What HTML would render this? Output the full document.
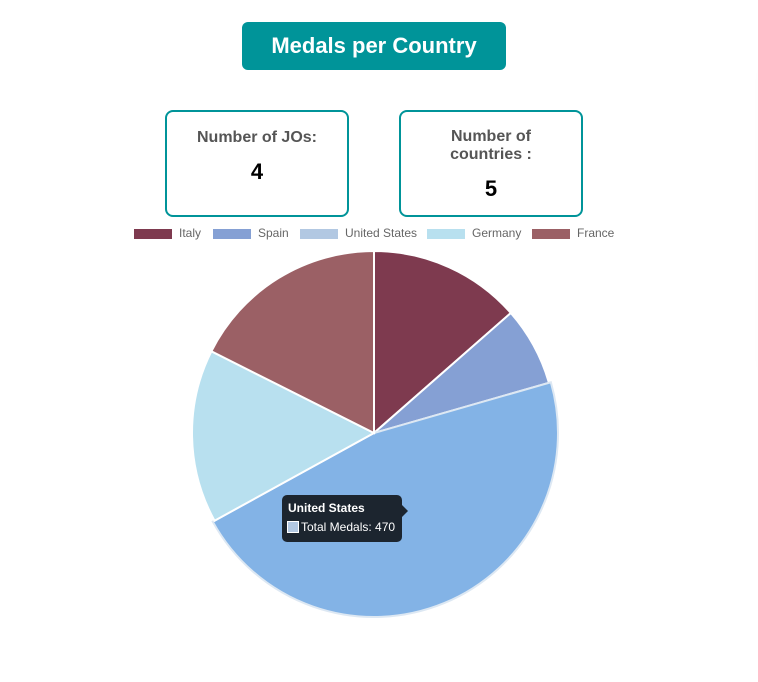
<!DOCTYPE html>
<html><head><meta charset="utf-8"><style>
body{margin:0;width:758px;height:682px;background:#fff;font-family:"Liberation Sans",sans-serif;overflow:hidden;position:relative}
.title{position:absolute;left:242px;top:22px;width:264px;height:48px;background:#009499;border-radius:6px;color:#fff;font-weight:bold;font-size:22px;text-align:center;line-height:48px}
.card{position:absolute;top:110px;width:184px;height:107px;border:2px solid #009499;border-radius:8px;text-align:center;box-sizing:border-box}
.card .lbl{color:#555;font-weight:bold;font-size:16px;line-height:18px}
.card .val{color:#000;font-weight:bold;font-size:22px}
.side{position:absolute;left:790px;top:60px;width:60px;height:320px;box-shadow:0 0 40px rgba(0,0,0,0.12)}
</style></head><body>
<div class="side"></div>
<div class="title">Medals per Country</div>
<div class="card" style="left:165px"><div class="lbl" style="margin-top:17px">Number of JOs:</div><div class="val" style="margin-top:12px">4</div></div>
<div class="card" style="left:399px"><div class="lbl" style="margin-top:16px">Number of<br>countries :</div><div class="val" style="margin-top:12px">5</div></div>
<svg id="chart" width="758" height="682" style="position:absolute;left:0;top:0"></svg>
<script>
const categories=["Italy","Spain","United States","Germany","France"];
const medals=[137,71,470,156,178];
const colors=["#7e3a4f","#85a0d4","#b2c8e2","#b8e0ef","#9b6065"];
const NS="http://www.w3.org/2000/svg";
const svg=document.getElementById("chart");
const cx=374,cy=433,R=182;
const total=medals.reduce((a,b)=>a+b,0);
function pt(a,r){return [cx+r*Math.sin(a),cy-r*Math.cos(a)];}
const lx=[134,213,300,427,532];
categories.forEach((c,i)=>{
 const g=document.createElementNS(NS,"g");
 
 
 const r=document.createElementNS(NS,"rect");
 r.setAttribute("x",lx[i]);r.setAttribute("y",229);r.setAttribute("width",38);r.setAttribute("height",10);r.setAttribute("fill",colors[i]);
 const t=document.createElementNS(NS,"text");
 t.setAttribute("x",lx[i]+45);t.setAttribute("y",237);t.setAttribute("font-size","12");t.setAttribute("fill","#666");t.setAttribute("font-family","Liberation Sans, sans-serif");
 t.textContent=c;g.appendChild(r);g.appendChild(t);svg.appendChild(g);
});
let a0=0;
medals.forEach((v,i)=>{
 const a1=a0+v/total*2*Math.PI;
 const r=i===2?184:R;
 const p0=pt(a0,r),p1=pt(a1,r);
 const p=document.createElementNS(NS,"path");
 p.setAttribute("d",`M${cx},${cy}L${p0[0]},${p0[1]}A${r},${r} 0 ${a1-a0>Math.PI?1:0} 1 ${p1[0]},${p1[1]}Z`);
 p.setAttribute("fill",i===2?"#83b3e6":colors[i]);
 p.setAttribute("stroke",i===2?"#dde8f3":"#fff");p.setAttribute("stroke-width","2");
 
 
 svg.appendChild(p);a0=a1;
});
</script>
<div style="position:absolute;left:282px;top:495px;width:120px;height:47px;background:#1c252f;border-radius:5px;color:#fff;font-size:12px">
<div style="position:absolute;right:-6px;top:10px;width:0;height:0;border-top:6px solid transparent;border-bottom:6px solid transparent;border-left:6px solid #1c252f"></div>
<div style="position:absolute;left:6px;top:6px;font-weight:bold">United States</div>
<div style="position:absolute;left:5px;top:26px;width:10px;height:10px;background:#b2c8e2;border:1px solid #fff"></div>
<div style="position:absolute;left:19px;top:25px">Total Medals: 470</div>
</div>
</body></html>
